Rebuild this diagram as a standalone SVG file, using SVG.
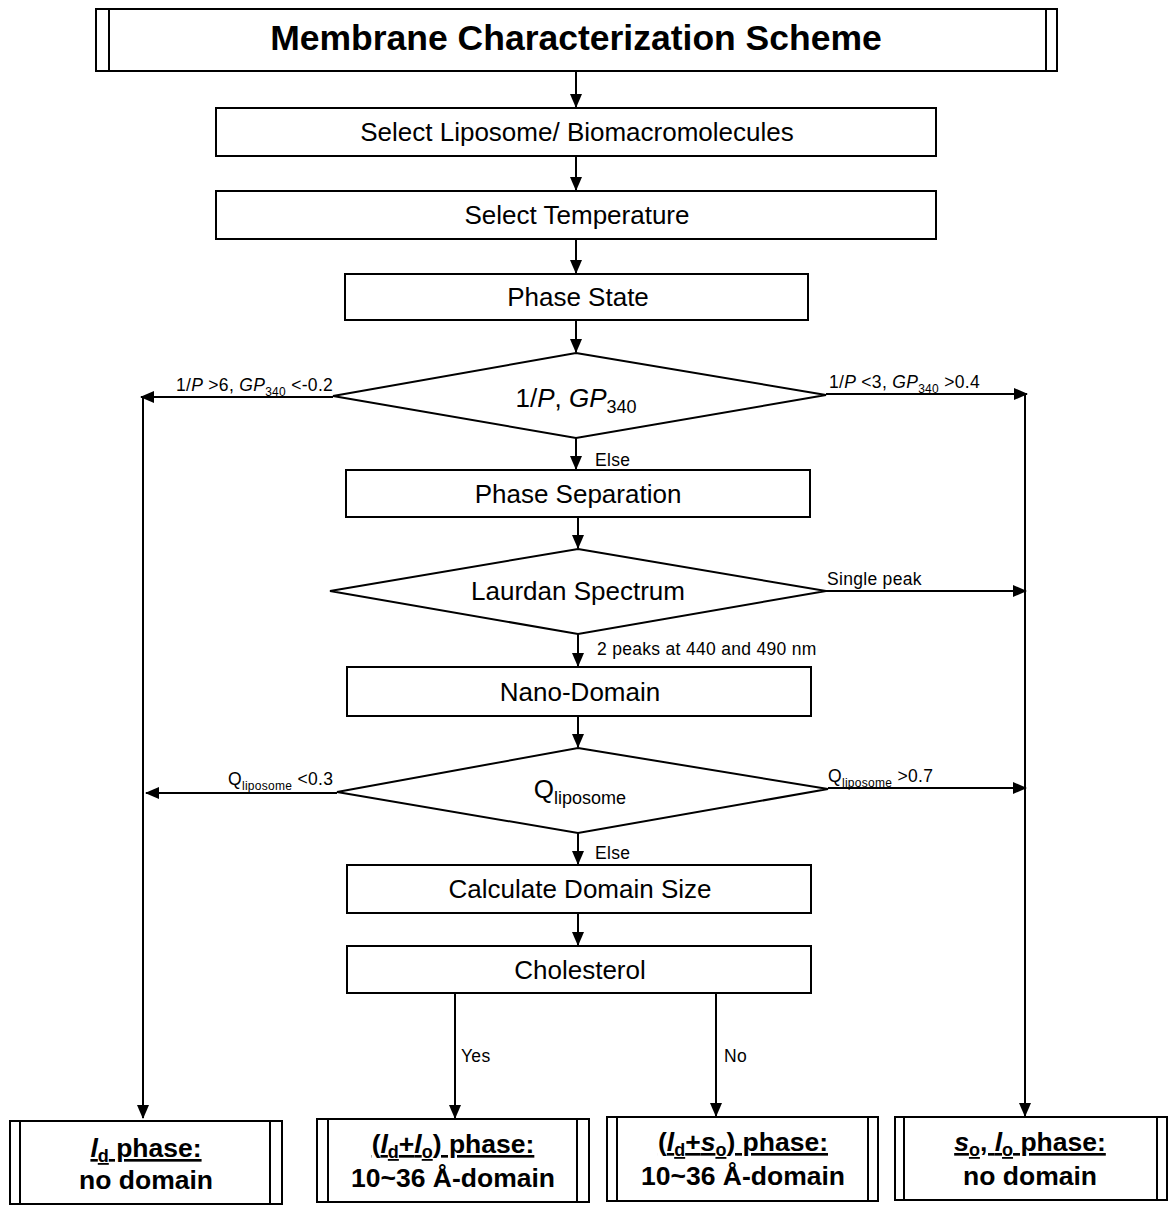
<svg xmlns="http://www.w3.org/2000/svg" width="1170" height="1207" viewBox="0 0 1170 1207">
  <style>
    .box { fill: #fff; stroke: #000; stroke-width: 2; }
    .edge { fill: none; stroke: #000; stroke-width: 2; }
    .t { font-family: "Liberation Sans", Arial, sans-serif; fill: #000; }
    .node { font-size: 26px; text-anchor: middle; }
    .lbl { font-size: 17.5px; letter-spacing: 0.3px; }
    .end { font-size: 26.5px; font-weight: bold; text-anchor: middle; }
    .title { font-size: 35.5px; font-weight: bold; text-anchor: middle; }
  </style>
  <defs>
    <marker id="arrow" markerUnits="userSpaceOnUse" markerWidth="14" markerHeight="12" refX="13" refY="6" orient="auto">
      <path d="M0,0 L14,6 L0,12 z" fill="#000"/>
    </marker>
  </defs>

  <rect width="1170" height="1207" fill="#fff"/>

  <!-- connectors -->
  <g id="connectors">
    <line class="edge" x1="576" y1="72" x2="576" y2="107" marker-end="url(#arrow)"/>
    <line class="edge" x1="576" y1="156" x2="576" y2="190" marker-end="url(#arrow)"/>
    <line class="edge" x1="576" y1="239" x2="576" y2="273" marker-end="url(#arrow)"/>
    <line class="edge" x1="576" y1="320" x2="576" y2="352" marker-end="url(#arrow)"/>
    <!-- 1/P, GP340 branches -->
    <polyline class="edge" points="333,397 141,397" marker-end="url(#arrow)"/>
    <line class="edge" x1="143" y1="397" x2="143" y2="1118" marker-end="url(#arrow)"/>
    <polyline class="edge" points="826,394 1027,394" marker-end="url(#arrow)"/>
    <line class="edge" x1="1025" y1="394" x2="1025" y2="1116" marker-end="url(#arrow)"/>
    <line class="edge" x1="576" y1="438" x2="576" y2="469" marker-end="url(#arrow)"/>
    <line class="edge" x1="578" y1="517" x2="578" y2="548" marker-end="url(#arrow)"/>
    <!-- Laurdan branches -->
    <line class="edge" x1="826" y1="591" x2="1026" y2="591" marker-end="url(#arrow)"/>
    <line class="edge" x1="578" y1="634" x2="578" y2="666" marker-end="url(#arrow)"/>
    <line class="edge" x1="578" y1="716" x2="578" y2="747" marker-end="url(#arrow)"/>
    <!-- Qliposome branches -->
    <line class="edge" x1="337" y1="793" x2="146" y2="793" marker-end="url(#arrow)"/>
    <line class="edge" x1="828" y1="788" x2="1026" y2="788" marker-end="url(#arrow)"/>
    <line class="edge" x1="578" y1="833" x2="578" y2="864" marker-end="url(#arrow)"/>
    <line class="edge" x1="578" y1="913" x2="578" y2="945" marker-end="url(#arrow)"/>
    <!-- Cholesterol branches -->
    <line class="edge" x1="455" y1="993" x2="455" y2="1118" marker-end="url(#arrow)"/>
    <line class="edge" x1="716" y1="993" x2="716" y2="1116" marker-end="url(#arrow)"/>

    <!-- branch labels -->
    <text class="t lbl" x="176" y="391">1/<tspan font-style="italic">P</tspan> &gt;6, <tspan font-style="italic">GP</tspan><tspan font-size="12" dy="5">340</tspan><tspan dy="-5"> &lt;-0.2</tspan></text>
    <text class="t lbl" x="829" y="388">1/<tspan font-style="italic">P</tspan> &lt;3, <tspan font-style="italic">GP</tspan><tspan font-size="12" dy="5">340</tspan><tspan dy="-5"> &gt;0.4</tspan></text>
    <text class="t lbl" x="595" y="466">Else</text>
    <text class="t lbl" x="827" y="585">Single peak</text>
    <text class="t lbl" x="597" y="655">2 peaks at 440 and 490 nm</text>
    <text class="t lbl" x="228" y="785">Q<tspan font-size="12" dy="5">liposome</tspan><tspan dy="-5"> &lt;0.3</tspan></text>
    <text class="t lbl" x="828" y="782">Q<tspan font-size="12" dy="5">liposome</tspan><tspan dy="-5"> &gt;0.7</tspan></text>
    <text class="t lbl" x="595" y="859">Else</text>
    <text class="t lbl" x="461" y="1062">Yes</text>
    <text class="t lbl" x="724" y="1062">No</text>
  </g>

  <!-- title -->
  <g id="title">
    <rect class="box" x="96" y="9" width="961" height="62"/>
    <line class="edge" x1="109" y1="9" x2="109" y2="71"/>
    <line class="edge" x1="1046" y1="9" x2="1046" y2="71"/>
    <text class="t title" x="576" y="50">Membrane Characterization Scheme</text>
  </g>

  <g id="select-liposome">
    <rect class="box" x="216" y="108" width="720" height="48"/>
    <text class="t node" x="577" y="141">Select Liposome/ Biomacromolecules</text>
  </g>
  <g id="select-temperature">
    <rect class="box" x="216" y="191" width="720" height="48"/>
    <text class="t node" x="577" y="224">Select Temperature</text>
  </g>
  <g id="phase-state">
    <rect class="box" x="345" y="274" width="463" height="46"/>
    <text class="t node" x="578" y="306">Phase State</text>
  </g>
  <g id="decision-gp">
    <polygon class="box" points="576,353 826,395 576,438 333,396"/>
    <text class="t node" x="576" y="407">1/<tspan font-style="italic">P</tspan>, <tspan font-style="italic">GP</tspan><tspan font-size="18" dy="6">340</tspan></text>
  </g>
  <g id="phase-separation">
    <rect class="box" x="346" y="470" width="464" height="47"/>
    <text class="t node" x="578" y="503">Phase Separation</text>
  </g>
  <g id="decision-laurdan">
    <polygon class="box" points="578,549 826,591 578,634 330,591"/>
    <text class="t node" x="578" y="600">Laurdan Spectrum</text>
  </g>
  <g id="nano-domain">
    <rect class="box" x="347" y="667" width="464" height="49"/>
    <text class="t node" x="580" y="701">Nano-Domain</text>
  </g>
  <g id="decision-q">
    <polygon class="box" points="578,748 828,789 578,833 337,792"/>
    <text class="t node" x="580" y="798">Q<tspan font-size="18" dy="6">liposome</tspan></text>
  </g>
  <g id="domain-size">
    <rect class="box" x="347" y="865" width="464" height="48"/>
    <text class="t node" x="580" y="898">Calculate Domain Size</text>
  </g>
  <g id="cholesterol">
    <rect class="box" x="347" y="946" width="464" height="47"/>
    <text class="t node" x="580" y="979">Cholesterol</text>
  </g>

  <!-- outcomes -->
  <g id="ld-phase">
    <rect class="box" x="10" y="1121" width="272" height="83"/>
    <line class="edge" x1="20" y1="1121" x2="20" y2="1204"/>
    <line class="edge" x1="270" y1="1121" x2="270" y2="1204"/>
    <text class="t end" x="146" y="1157" text-decoration="underline"><tspan font-style="italic">l</tspan><tspan font-size="18" dy="5">d</tspan><tspan dy="-5"> phase:</tspan></text>
    <text class="t end" x="146" y="1189">no domain</text>
  </g>
  <g id="ld-lo-phase">
    <rect class="box" x="317" y="1119" width="272" height="83"/>
    <line class="edge" x1="328" y1="1119" x2="328" y2="1202"/>
    <line class="edge" x1="577" y1="1119" x2="577" y2="1202"/>
    <text class="t end" x="453" y="1153" text-decoration="underline">(<tspan font-style="italic">l</tspan><tspan font-size="18" dy="5">d</tspan><tspan dy="-5">+</tspan><tspan font-style="italic">l</tspan><tspan font-size="18" dy="5">o</tspan><tspan dy="-5">) phase:</tspan></text>
    <text class="t end" x="453" y="1187">10~36 Å-domain</text>
  </g>
  <g id="ld-so-phase">
    <rect class="box" x="607" y="1117" width="271" height="84"/>
    <line class="edge" x1="617" y1="1117" x2="617" y2="1201"/>
    <line class="edge" x1="868" y1="1117" x2="868" y2="1201"/>
    <text class="t end" x="743" y="1151" text-decoration="underline">(<tspan font-style="italic">l</tspan><tspan font-size="18" dy="5">d</tspan><tspan dy="-5">+</tspan><tspan font-style="italic">s</tspan><tspan font-size="18" dy="5">o</tspan><tspan dy="-5">) phase:</tspan></text>
    <text class="t end" x="743" y="1185">10~36 Å-domain</text>
  </g>
  <g id="so-lo-phase">
    <rect class="box" x="895" y="1117" width="272" height="83"/>
    <line class="edge" x1="904" y1="1117" x2="904" y2="1200"/>
    <line class="edge" x1="1157" y1="1117" x2="1157" y2="1200"/>
    <text class="t end" x="1030" y="1151" text-decoration="underline"><tspan font-style="italic">s</tspan><tspan font-size="18" dy="5">o</tspan><tspan dy="-5">, </tspan><tspan font-style="italic">l</tspan><tspan font-size="18" dy="5">o</tspan><tspan dy="-5"> phase:</tspan></text>
    <text class="t end" x="1030" y="1185">no domain</text>
  </g>
</svg>
